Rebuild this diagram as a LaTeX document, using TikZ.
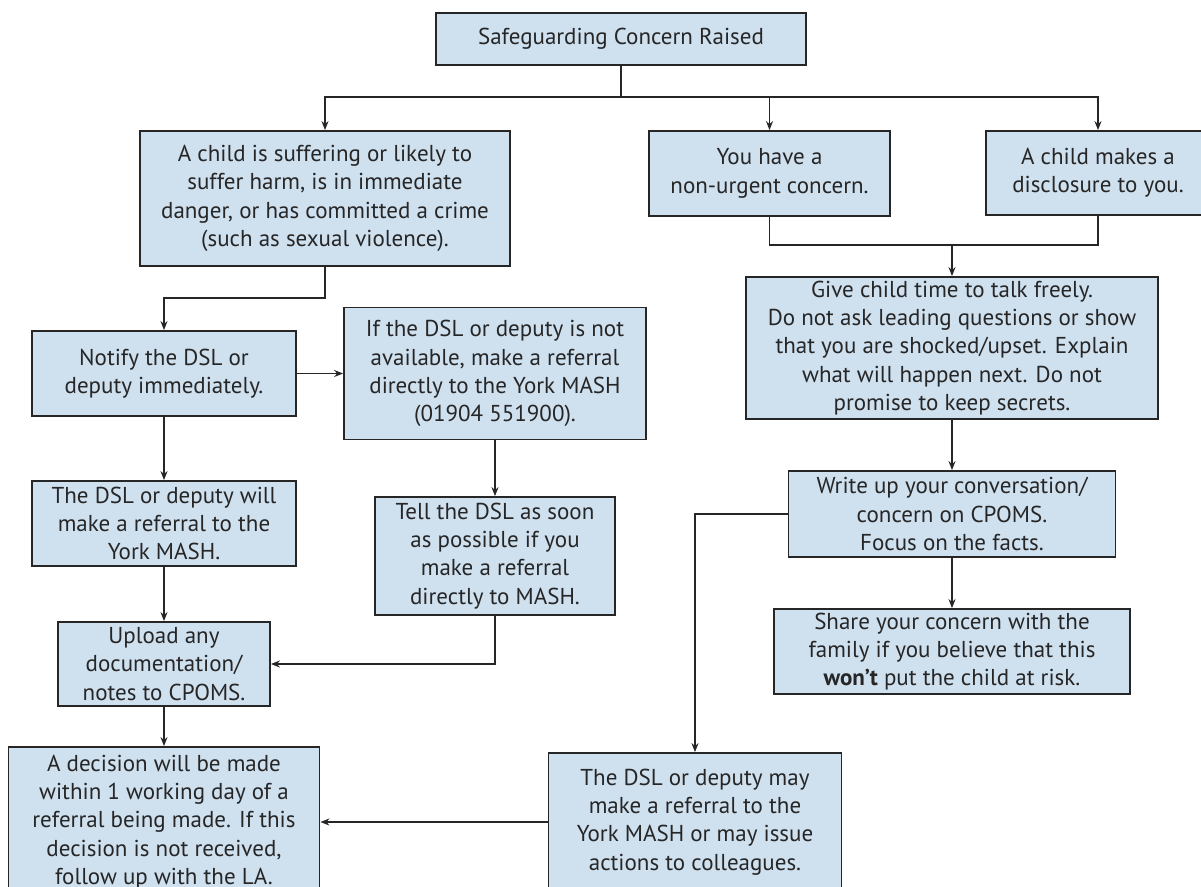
\documentclass[tikz,border=0pt]{standalone}
\usepackage{fontspec}
\setmainfont{PT Sans}
\usetikzlibrary{arrows.meta}

\definecolor{boxblue}{RGB}{207,224,239}

\tikzset{
	box/.style={draw=black!85, fill=boxblue, line width=1.8pt, align=center, inner sep=0pt,
		font=\fontsize{23}{28.3}\selectfont, text=black!85},
	link/.style={line width=1.5pt, draw=black!85},
	arr/.style={link, -{Stealth[length=9pt, width=7pt]}}
}

\begin{document}
\begin{tikzpicture}[x=1pt, y=-1pt]
	\useasboundingbox (0,0) rectangle (1201,886);
	\clip (0,0) rectangle (1201,886);

	% boxes
	\node[box, minimum width=370pt, minimum height=52pt] (raised) at (621,39) {Safeguarding Concern Raised};
	\node[box, minimum width=370pt, minimum height=135pt] (harm) at (325,198.5) {A child is suffering or likely to\\suffer harm, is in immediate\\danger, or has committed a crime\\(such as sexual violence).};
	\node[box, minimum width=241pt, minimum height=85pt] (urgent) at (769.5,173.5) {You have a\\non-urgent concern.};
	\node[box, minimum width=224pt, minimum height=84pt] (disclose) at (1098,173) {A child makes a\\disclosure to you.};

	\node[box, minimum width=264pt, minimum height=85pt] (notify) at (164,373.5) {Notify the DSL or\\deputy immediately.};
	\node[box, minimum width=302pt, minimum height=132pt] (ifnot) at (495,373.5) {If the DSL or deputy is not\\available, make a referral\\directly to the York MASH\\(01904 551900).};
	\node[box, minimum width=264pt, minimum height=85pt] (will) at (164,523.5) {The DSL or deputy will\\make a referral to the\\York MASH.};
	\node[box, minimum width=240pt, minimum height=118pt] (tell) at (495,556) {Tell the DSL as soon\\as possible if you\\make a referral\\directly to MASH.};
	\node[box, minimum width=212pt, minimum height=84pt] (upload) at (164,664) {Upload any\\documentation/\\notes to CPOMS.};
	\node[box, minimum width=311pt, minimum height=150pt] (decision) at (164,822) {A decision will be made\\within 1 working day of a\\referral being made. If this\\decision is not received,\\follow up with the LA.};

	\node[box, minimum width=412pt, minimum height=142pt] (give) at (952,348) {Give child time to talk freely.\\Do not ask leading questions or show\\that you are shocked/upset. Explain\\what will happen next. Do not\\promise to keep secrets.};
	\node[box, minimum width=327pt, minimum height=86pt] (write) at (952,514) {Write up your conversation/\\concern on CPOMS.\\Focus on the facts.};
	\node[box, minimum width=356pt, minimum height=85pt] (share) at (952,651.5) {Share your concern with the\\family if you believe that this\\\textbf{won’t} put the child at risk.};
	\node[box, minimum width=293pt, minimum height=138pt] (may) at (695,822) {The DSL or deputy may\\make a referral to the\\York MASH or may issue\\actions to colleagues.};

	% connectors
	\coordinate (split) at (621,97);
	\coordinate (join) at (952,245);
	\draw[link] (raised.south) -- (split);
	\draw[arr] (split) -| (harm.north);
	\draw[arr] (split) -| (urgent.north);
	\draw[arr] (split) -| (disclose.north);

	\draw[arr] (harm.south) -- ++(0,31) -| (notify.north);
	\draw[arr] (notify.east) -- (ifnot.west);
	\draw[arr] (notify.south) -- (will.north);
	\draw[arr] (ifnot.south) -- (tell.north);
	\draw[arr] (will.south) -- (upload.north);
	\draw[arr] (tell.south) |- (upload.east);
	\draw[arr] (upload.south) -- (decision.north);

	\draw[link] (urgent.south) |- (join) -| (disclose.south);
	\draw[arr] (join) -- (give.north);
	\draw[arr] (give.south) -- (write.north);
	\draw[arr] (write.south) -- (share.north);
	\draw[arr] (write.west) -| (may.north);
	\draw[arr] (may.west) -- (decision.east);
\end{tikzpicture}
\end{document}
